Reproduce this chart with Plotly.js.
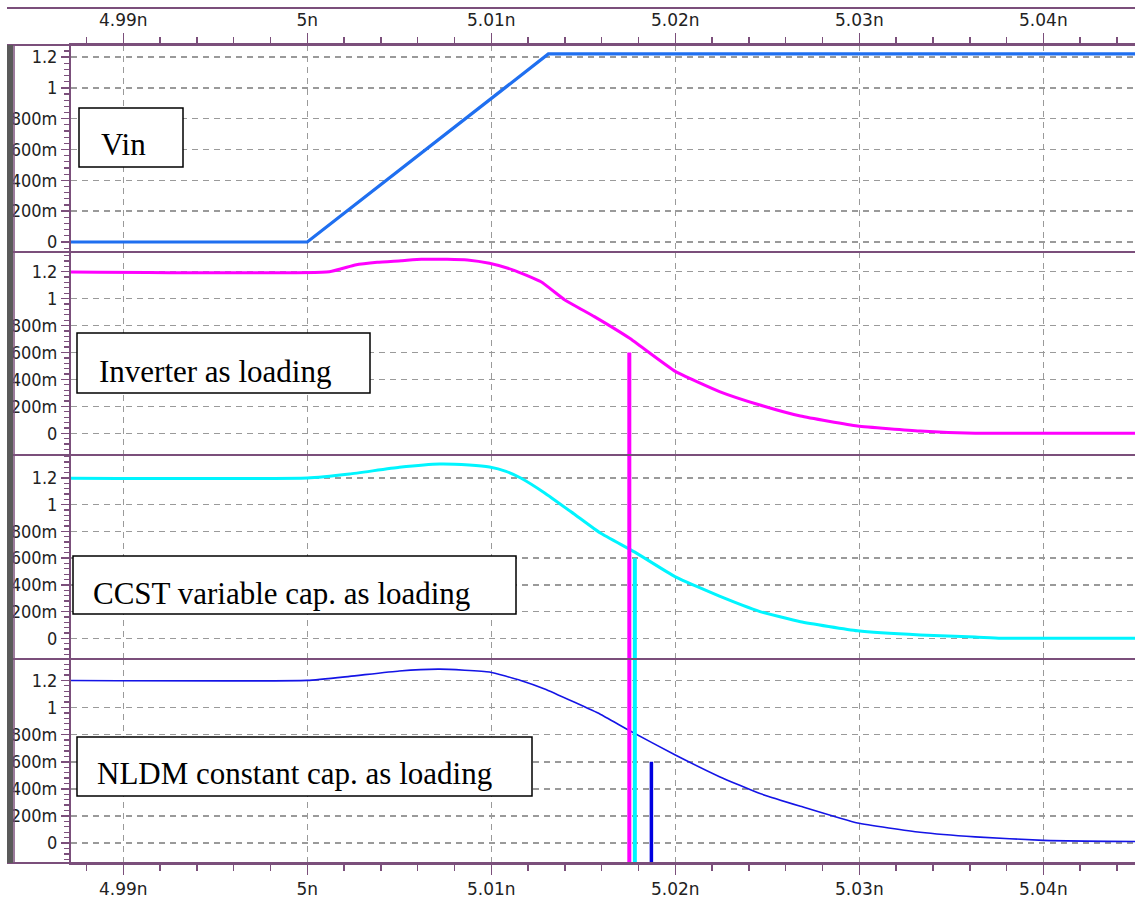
<!DOCTYPE html>
<html><head><meta charset="utf-8">
<script src="https://cdn.plot.ly/plotly-3.0.1.min.js"></script>
<style>html,body{margin:0;padding:0;background:#fff}#chart{width:1135px;height:902px}</style>
</head><body><div id="chart"></div>
<script>
// ---- data (time in ns, voltage in V) ----
const vinTime = [4.985, 5.0000, 5.0131, 5.046];
const vinVolt = [0, 0, 1.22, 1.22];

const invTime = [4.985, 5.0012, 5.0026, 5.0038, 5.0051, 5.0062, 5.0076, 5.0087, 5.0099, 5.0112, 5.0127, 5.0140, 5.0156, 5.0175, 5.0200, 5.0224, 5.0246, 5.0268, 5.0299, 5.0333, 5.0363, 5.046];
const invVolt = [1.2, 1.2, 1.25, 1.27, 1.281, 1.292, 1.292, 1.287, 1.262, 1.212, 1.125, 0.99, 0.866, 0.707, 0.46, 0.31, 0.21, 0.128, 0.054, 0.017, 0.0, 0.0];

const ccstTime = [4.985, 5.0000, 5.0023, 5.0050, 5.0072, 5.0088, 5.0099, 5.0108, 5.0116, 5.0129, 5.0145, 5.0159, 5.0178, 5.0200, 5.0224, 5.0246, 5.0268, 5.0299, 5.0333, 5.0363, 5.0377, 5.046];
const ccstVolt = [1.2, 1.2, 1.23, 1.28, 1.305, 1.297, 1.282, 1.25, 1.20, 1.088, 0.93, 0.79, 0.645, 0.46, 0.315, 0.2, 0.124, 0.056, 0.025, 0.01, 0.0, 0.0];

const nldmTime = [4.985, 5.0000, 5.0023, 5.0050, 5.0072, 5.0099, 5.0116, 5.0129, 5.0145, 5.0159, 5.0175, 5.0200, 5.0224, 5.0246, 5.0268, 5.0299, 5.0333, 5.0363, 5.0400, 5.046];
const nldmVolt = [1.2, 1.2, 1.23, 1.27, 1.283, 1.262, 1.2, 1.137, 1.04, 0.952, 0.83, 0.65, 0.49, 0.365, 0.272, 0.148, 0.08, 0.046, 0.02, 0.01];

// 50% crossing markers (ns) and marker level (V)
const markerNames = ["Inverter", "CCST", "NLDM"];
const markerTimes = [5.0175, 5.0178, 5.0187];
const markerLevel = 0.6;

const panelLabels = ["Vin", "Inverter as loading", "CCST variable cap. as loading", "NLDM constant cap. as loading"];

const xTickVals = [4.99, 5.00, 5.01, 5.02, 5.03, 5.04];
const xTickText = ["4.99n", "5n", "5.01n", "5.02n", "5.03n", "5.04n"];
const yTickVals = [0, 0.2, 0.4, 0.6, 0.8, 1.0, 1.2];
const yTickText = ["0", "200m", "400m", "600m", "800m", "1", "1.2"];

// ---- styling / layout helpers ----
const W = 1135, H = 902, ML = 71, MT = 45, MB = 39;
const PW = W - ML, PH = H - MT - MB;
const px2x = p => (p - ML) / PW;
const py2y = p => (H - MB - p) / PH;

const purple = '#7b4f7b';
const gridCol = '#9a9a9a';
const xTickFont = {family: 'DejaVu Sans, sans-serif', size: 17, color: '#222'};
const yTickFont = {family: 'DejaVu Sans Condensed, Liberation Sans, sans-serif', size: 18, color: '#222'};
const boxFont = {family: 'Liberation Serif, Times New Roman, serif', size: 31, color: '#000'};

const bounds = [45, 252, 455, 659, 863]; // panel boundaries, px
const ranges = [[-0.065, 1.278], [-0.161, 1.346], [-0.155, 1.372], [-0.147, 1.358]];
const xRange = [4.98716, 5.04498];

const yAlias = {};
yTickVals.forEach((v, i) => { yAlias[String(v)] = yTickText[i]; });
const xAlias = {};
xTickVals.forEach((v, i) => { xAlias[String(v)] = xTickText[i]; });

function yax(i) {
  return {
    domain: [py2y(bounds[i + 1]), py2y(bounds[i])],
    range: ranges[i], anchor: i === 0 ? 'x2' : 'x', fixedrange: true,
    tickmode: 'linear', tick0: yTickVals[0], dtick: yTickVals[1] - yTickVals[0], labelalias: yAlias,
    ticks: 'outside', ticklen: 8, tickwidth: 1.5, tickcolor: purple,
    showline: true, linecolor: purple, linewidth: 2,
    showgrid: true, gridcolor: gridCol, gridwidth: 1.5, griddash: '6px,5px',
    zeroline: false, tickfont: yTickFont, ticklabelstandoff: 0,
    minor: {tickmode: 'linear', tick0: 0, dtick: 0.04, ticks: 'outside', ticklen: 5, tickwidth: 1.3, tickcolor: purple, showgrid: false}
  };
}

const curveStyle = [
  {color: '#1f6ff0', width: 3.2},
  {color: '#ff00ff', width: 3},
  {color: '#00f5ff', width: 3},
  {color: '#1414e6', width: 1.6}
];
const markerStyle = [
  {color: '#ff00ff', width: 4},
  {color: '#00f5ff', width: 4},
  {color: '#0000e0', width: 3.5}
];

const series = [[vinTime, vinVolt], [invTime, invVolt], [ccstTime, ccstVolt], [nldmTime, nldmVolt]];
const yNames = ['y', 'y2', 'y3', 'y4'];

const traces = series.map((s, i) => ({
  type: 'scatter', mode: 'lines', x: s[0], y: s[1], xaxis: i === 0 ? 'x2' : 'x', yaxis: yNames[i],
  line: Object.assign({shape: 'spline', smoothing: 0.4}, curveStyle[i]), hoverinfo: 'skip', showlegend: false
}));
traces[0].line.shape = 'linear';

// vertical crossing markers: start at markerLevel in own panel, run through the panels below
markerTimes.forEach((t, m) => {
  for (let p = m + 1; p <= 3; p++) {
    traces.push({
      type: 'scatter', mode: 'lines', x: [t, t],
      y: p === m + 1 ? [markerLevel, -10] : [10, -10],
      xaxis: 'x', yaxis: yNames[p], line: markerStyle[m], hoverinfo: 'skip', showlegend: false
    });
  }
});

const xCommon = {
  domain: [0, 1], range: xRange, fixedrange: true,
  tickmode: 'linear', tick0: xTickVals[0], dtick: 0.01, labelalias: xAlias,
  ticks: 'outside', ticklen: 10, tickwidth: 1.5, tickcolor: purple,
  showline: true, linecolor: purple, linewidth: 2, zeroline: false, tickfont: xTickFont,
  showgrid: true, gridcolor: gridCol, gridwidth: 1.5, griddash: '6px,5px',
  minor: {tickmode: 'linear', tick0: 4.99, dtick: 0.002, ticks: 'outside', ticklen: 6, tickwidth: 1.5, tickcolor: purple, showgrid: false}
};

const shapes = [];
bounds.forEach(b => shapes.push({type: 'line', xref: 'paper', yref: 'paper', x0: px2x(7), x1: 1, y0: py2y(b), y1: py2y(b), line: {color: purple, width: 2}, layer: 'above'}));
shapes.push({type: 'line', xref: 'paper', yref: 'paper', x0: px2x(7), x1: 1, y0: py2y(8), y1: py2y(8), line: {color: purple, width: 2}, layer: 'above'});
shapes.push({type: 'rect', xref: 'paper', yref: 'paper', x0: px2x(7), x1: px2x(13), y0: py2y(863), y1: py2y(45), fillcolor: '#5a5a5a', line: {width: 0}, layer: 'above'});
shapes.push({type: 'line', xref: 'paper', yref: 'paper', x0: px2x(14), x1: px2x(14), y0: py2y(863), y1: py2y(45), line: {color: purple, width: 1.5}, layer: 'above'});

const boxes = [
  {b: [79, 183, 108, 167], tx: 100, base: 155},
  {b: [77, 370, 333, 393], tx: 98, base: 382},
  {b: [73, 516, 556, 614], tx: 92, base: 604},
  {b: [77, 532, 737, 796], tx: 96, base: 784}
];
const annotations = [];
boxes.forEach((bx, i) => {
  shapes.push({type: 'rect', xref: 'paper', yref: 'paper', x0: px2x(bx.b[0]), x1: px2x(bx.b[1]), y0: py2y(bx.b[3]), y1: py2y(bx.b[2]), fillcolor: '#fff', line: {color: '#000', width: 1.5}, layer: 'above'});
  annotations.push({xref: 'paper', yref: 'paper', x: px2x(bx.tx), y: py2y(bx.base - 10.5), xanchor: 'left', yanchor: 'middle', text: panelLabels[i], showarrow: false, font: boxFont, borderpad: 0});
});

const layout = {
  width: W, height: H,
  margin: {l: ML, r: 0, t: MT, b: MB, pad: 0},
  paper_bgcolor: '#fff', plot_bgcolor: '#fff', showlegend: false,
  xaxis: Object.assign({}, xCommon, {anchor: 'y4', side: 'bottom'}),
  xaxis2: Object.assign({}, xCommon, {anchor: 'y', side: 'top'}),
  yaxis: yax(0), yaxis2: yax(1), yaxis3: yax(2), yaxis4: yax(3),
  shapes: shapes, annotations: annotations
};

Plotly.newPlot('chart', traces, layout, {displayModeBar: false, staticPlot: true});
</script>
</body></html>
